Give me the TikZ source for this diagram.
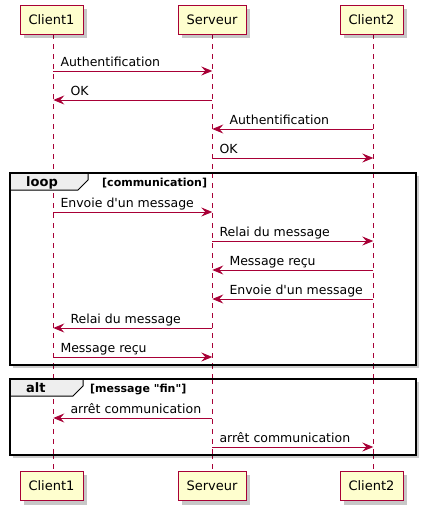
\documentclass[tikz,border=0pt]{standalone}
\usepackage{fontspec}
\setmainfont{DejaVu Sans}[Ligatures=TeXOff]
\usetikzlibrary{arrows.meta}
\definecolor{pred}{HTML}{A80036}
\definecolor{pfill}{HTML}{FEFECE}
\definecolor{tabfill}{HTML}{EEEEEE}
\tikzset{
  pbox/.style={draw=pred, line width=1pt, fill=pfill, minimum height=29pt, inner sep=0pt, font=\fontsize{13}{15}\selectfont},
  pshadow/.style={fill=black, opacity=0.22},
  lifeline/.style={draw=pred, line width=0.8pt, dash pattern=on 5pt off 5pt},
  msg/.style={draw=pred, line width=0.9pt, -{Stealth[length=11pt,width=9pt,inset=4pt]}},
  lbl/.style={anchor=base west, inner sep=0pt, font=\fontsize{12.5}{14}\selectfont},
  frame/.style={draw=black, line width=1.5pt},
  fshadow/.style={fill=black, opacity=0.2},
  tabshape/.style={draw=black, line width=1pt, fill=tabfill},
  kw/.style={anchor=base west, inner sep=0pt, font=\bfseries\fontsize{13}{15}\selectfont},
  cond/.style={anchor=base west, inner sep=0pt, font=\bfseries\fontsize{11}{13}\selectfont},
}
\def\xa{53.3}
\def\xb{212.3}
\def\xc{373.3}
% right-going message: id, from x, to x, y, label
\newcommand\msgR[5]{%
  \coordinate (#1s) at (#2,#4);
  \coordinate (#1e) at (#3,#4);
  \draw[msg] (#1s) -- (#1e);
  \node[lbl] (#1l) at (#2+7,#4-5) {#5};
}
% left-going message
\newcommand\msgL[5]{%
  \coordinate (#1s) at (#2,#4);
  \coordinate (#1e) at (#3,#4);
  \draw[msg] (#1s) -- (#1e);
  \node[lbl] (#1l) at (#3+17,#4-5) {#5};
}
\newcommand\participant[6]{% name, x1, x2, y1, y2, text
  \fill[pshadow] (#2+4,#4+4) rectangle (#3+4,#5+4);
  \node[pbox, minimum width={#3-#2}] (#1) at ({(#2+#3)/2},{(#4+#5)/2}) {#6};
}
\begin{document}
\begin{tikzpicture}[x=1pt,y=-1pt]
\useasboundingbox (0,0) rectangle (429,514);
\fill[white] (0,0) rectangle (429,514);

% lifelines
\coordinate (l1t) at (\xa,34);
\coordinate (l1b) at (\xa,471);
\coordinate (l2t) at (\xb,34);
\coordinate (l2b) at (\xb,471);
\coordinate (l3t) at (\xc,34);
\coordinate (l3b) at (\xc,471);
\draw[lifeline] (l1t) -- (l1b);
\draw[lifeline] (l2t) -- (l2b);
\draw[lifeline] (l3t) -- (l3b);

% frames (shadows + borders)
\fill[fshadow] (13,176) rectangle (419,368);
\fill[fshadow] (13,382) rectangle (419,458);
\fill[white] (10,173) rectangle (416,365);
\fill[white] (10,379) rectangle (416,455);
% redraw lifelines inside frames
\draw[lifeline] (\xa,173) -- (\xa,365);
\draw[lifeline] (\xb,173) -- (\xb,365);
\draw[lifeline] (\xc,173) -- (\xc,365);
\draw[lifeline] (\xa,379) -- (\xa,455);
\draw[lifeline] (\xb,379) -- (\xb,455);
\draw[lifeline] (\xc,379) -- (\xc,455);

% loop frame
\draw[tabshape] (10,173) -- (88,173) -- (88,180) -- (78,190) -- (10,190) -- cycle;
\draw[frame] (10,173) rectangle (416,365);
\node[kw] (loopkw) at (26,186) {loop};
\node[cond] (loopcond) at (102,186) {[communication]};

% alt frame
\draw[tabshape] (10,379) -- (83,379) -- (83,386) -- (73,396) -- (10,396) -- cycle;
\draw[frame] (10,379) rectangle (416,455);
\node[kw] (altkw) at (26,392) {alt};
\node[cond] (altcond) at (90,392) {[message "fin"]};

% participants
\participant{p1}{20}{83}{5}{34}{Client1}
\participant{p2}{178}{246}{5}{34}{Serveur}
\participant{p3}{340}{403}{5}{34}{Client2}
\participant{q1}{20}{83}{471}{501}{Client1}
\participant{q2}{178}{246}{471}{501}{Serveur}
\participant{q3}{340}{403}{471}{501}{Client2}

% messages
\msgR{m1}{\xa}{\xb}{71}{Authentification}
\msgL{m2}{\xb}{\xa}{100}{OK}
\msgL{m3}{\xc}{\xb}{129}{Authentification}
\msgR{m4}{\xb}{\xc}{158}{OK}
\msgR{m5}{\xa}{\xb}{212}{Envoie d'un message}
\msgR{m6}{\xb}{\xc}{241}{Relai du message}
\msgL{m7}{\xc}{\xb}{270}{Message reçu}
\msgL{m8}{\xc}{\xb}{299}{Envoie d'un message}
\msgL{m9}{\xb}{\xa}{328}{Relai du message}
\msgR{m10}{\xa}{\xb}{357}{Message reçu}
\msgL{m11}{\xb}{\xa}{418}{arrêt communication}
\msgR{m12}{\xb}{\xc}{447}{arrêt communication}
\end{tikzpicture}
\end{document}
